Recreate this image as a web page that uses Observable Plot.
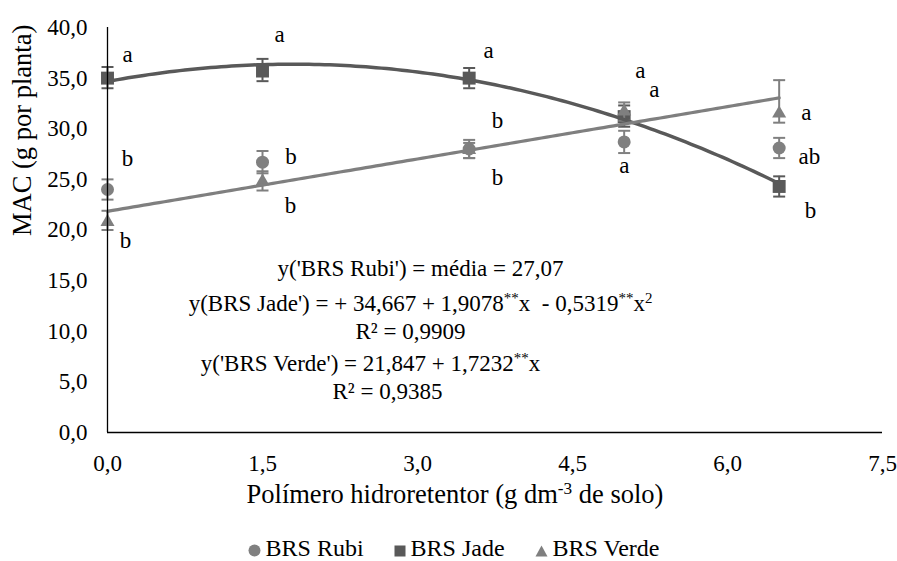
<!DOCTYPE html>
<html lang="pt"><head><meta charset="utf-8">
<script src="https://cdn.jsdelivr.net/npm/d3@7"></script>
<script src="https://cdn.jsdelivr.net/npm/@observablehq/plot@0.6"></script>
<style>
@font-face { font-family: "ChartSerif"; src: local("Liberation Serif"), local("LiberationSerif"), local("LiberationSerif-Regular"), local("Liberation Serif Regular"), local("Tinos"), local("Tinos-Regular"), local("DejaVu Serif"), local("DejaVuSerif"); }
body{margin:0;background:#fff;}
#wrap{width:897px;height:561px;position:relative;overflow:hidden;background:#fff}
#wrap, #wrap *{font-family:"Liberation Serif","ChartSerif","Tinos","DejaVu Serif",serif;}
</style></head><body>
<div id="wrap">
<div id="chart" style="height:528px"></div>
<div id="legend" style="font-size:24px;display:flex;justify-content:center;align-items:center;gap:30px;height:26px;padding-top:7px;padding-left:10px;line-height:1;color:#000">
  <div style="display:flex;align-items:center;gap:5px"><svg width="13" height="13" style="margin-top:5px"><circle cx="6.5" cy="6.5" r="6" fill="#808080"/></svg><span class="lg">BRS Rubi</span></div>
  <div style="display:flex;align-items:center;gap:5px"><svg width="12" height="12" style="margin-top:5px"><rect x="0.5" y="0.5" width="11" height="11" fill="#595959"/></svg><span class="lg">BRS Jade</span></div>
  <div style="display:flex;align-items:center;gap:5px"><svg width="13" height="12" style="margin-top:5px"><polygon points="6.5,0.5 12.5,11.5 0.5,11.5" fill="#7f7f7f"/></svg><span class="lg">BRS Verde</span></div>
</div>
</div>
<script>
// ---------- data ----------
const xVals = [0, 1.5, 3.5, 5, 6.5];
const rubi   = [24.0, 26.7, 28.0, 28.7, 28.1];
const rubiLo = [23.0, 25.6, 27.1, 27.6, 27.1];
const rubiHi = [25.0, 27.8, 28.9, 29.8, 29.1];
const jade   = [35.0, 35.7, 35.0, 31.2, 24.3];
const jadeLo = [34.0, 34.7, 34.0, 30.2, 23.3];
const jadeHi = [36.1, 36.9, 36.0, 32.3, 25.3];
const verde   = [20.8, 24.8, 27.9, 31.7, 31.5];
const verdeLo = [20.0, 23.9, 27.1, 30.8, 30.6];
const verdeHi = [21.9, 25.8, 28.6, 32.6, 34.8];
const rubiLetters  = ["b", "b", "b", "a", "ab"];
const jadeLetters  = ["a", "a", "a", "a", "b"];
const verdeLetters = ["b", "b", "b", "a", "a"];
const jadeCoef  = [34.667, 1.9078, -0.5319];
const verdeCoef = [21.847, 1.7232];
const trendRange = [0, 6.5];
const xTicks = [0, 1.5, 3, 4.5, 6, 7.5];
const yTicks = [0, 5, 10, 15, 20, 25, 30, 35, 40];
const equations = [
  "y('BRS Rubi') = média = 27,07",
  "y(BRS Jade') = + 34,667 + 1,9078^{**}x  - 0,5319^{**}x^{2}",
  "R² = 0,9909",
  "y('BRS Verde') = 21,847 + 1,7232^{**}x",
  "R² = 0,9385"
];
const xLabel = "Polímero hidroretentor (g dm^{-3} de solo)";
const yLabel = "MAC (g por planta)";
const seriesNames = ["BRS Rubi", "BRS Jade", "BRS Verde"];

// ---------- layout / style ----------
const FONT = "'Liberation Serif', 'ChartSerif', 'Tinos', 'DejaVu Serif', serif";
const colors = {rubi: "#808080", jade: "#595959", verde: "#7f7f7f"};
const eqOffsets = [[313, 232.5], [313, 267.5], [303, 295.5], [263, 327.5], [280, 355.5]];
const letterOffsets = {
  jade:  [[20, -23], [17, -35.5], [19.4, -26.6], [16.3, -44.5], [31.3, 25]],
  rubi:  [[20, -30], [28.5, -4.7], [28.4, -27.5], [0.3, 24.6], [30.3, 9.5]],
  verde: [[18, 19.6], [28, 25], [28.4, 28.5], [30.3, -21], [27.3, 0]]
};

const rows = (vals, lo, hi, letters) => xVals.map((x, i) => ({x, y: vals[i], lo: lo[i], hi: hi[i], letter: letters[i]}));
const rubiRows = rows(rubi, rubiLo, rubiHi, rubiLetters);
const jadeRows = rows(jade, jadeLo, jadeHi, jadeLetters);
const verdeRows = rows(verde, verdeLo, verdeHi, verdeLetters);
const poly = (c, x) => c.reduce((s, a, k) => s + a * Math.pow(x, k), 0);
const trend = c => d3.range(trendRange[0], trendRange[1] + 1e-9, 0.05).map(x => ({x, y: poly(c, x)}));

const capSymbol = {draw(ctx, size) { const w = Math.sqrt(size / Math.PI); ctx.moveTo(-w, 0); ctx.lineTo(w, 0); }};
const fmt = d => d.toFixed(1).replace(".", ",");

function seriesMarks(data, color, symbol, r) {
  return [
    Plot.ruleX(data, {x: "x", y1: "lo", y2: "hi", stroke: color, strokeWidth: 2}),
    Plot.dot(data, {x: "x", y: "lo", symbol: capSymbol, r: 6, stroke: color, strokeWidth: 2, fill: "none"}),
    Plot.dot(data, {x: "x", y: "hi", symbol: capSymbol, r: 6, stroke: color, strokeWidth: 2, fill: "none"}),
    Plot.dot(data, {x: "x", y: "y", symbol, r, fill: color, stroke: "none"})
  ];
}
function letterMarks(data, offsets) {
  return data.map((d, i) => Plot.text([d], {x: "x", y: "y", text: "letter", dx: offsets[i][0], dy: offsets[i][1] - 1, fontSize: 23, fill: "#000"}));
}

const plot = Plot.plot({
  width: 897, height: 528,
  marginLeft: 107, marginRight: 15, marginTop: 27, marginBottom: 96,
  x: {domain: [0, 7.5]},
  y: {domain: [0, 40]},
  style: {fontFamily: FONT, fontSize: "23px", color: "#000", background: "#fff"},
  marks: [
    Plot.axisX({ticks: xTicks, tickFormat: fmt, tickSize: 0, tickPadding: 22, label: null, fontSize: 23}),
    Plot.axisY({ticks: yTicks, tickFormat: fmt, tickSize: 0, tickPadding: 20, label: null, fontSize: 23}),
    ...seriesMarks(rubiRows, colors.rubi, "circle", 6.5),
    ...seriesMarks(jadeRows, colors.jade, "square", 7.3),
    ...seriesMarks(verdeRows, colors.verde, "triangle", 5.2),
    Plot.line(trend(jadeCoef), {x: "x", y: "y", stroke: colors.jade, strokeWidth: 3.5}),
    Plot.line(trend(verdeCoef), {x: "x", y: "y", stroke: colors.verde, strokeWidth: 3.2}),
    Plot.ruleX([0], {y1: 0, y2: 40, stroke: "#000", strokeWidth: 1.3}),
    Plot.ruleY([0], {x1: 0, x2: 7.5, stroke: "#000", strokeWidth: 1.3}),
    ...letterMarks(jadeRows, letterOffsets.jade),
    ...letterMarks(rubiRows, letterOffsets.rubi),
    ...letterMarks(verdeRows, letterOffsets.verde),
    ...equations.map((e, i) => Plot.text([e], {frameAnchor: "top-left", dx: eqOffsets[i][0], dy: eqOffsets[i][1], textAnchor: "middle", fontSize: 23, fill: "#000"})),
    Plot.text([xLabel], {frameAnchor: "bottom", dx: -40, dy: 70.5, fontSize: 26.5, fill: "#000"}),
    Plot.text([yLabel], {frameAnchor: "left", dx: -85, dy: 6, rotate: -90, fontSize: 26.5, fill: "#000"})
  ]
});

// superscript markup ^{...}
plot.querySelectorAll("text").forEach(t => {
  const s = t.textContent;
  if (!s.includes("^{")) return;
  while (t.firstChild) t.removeChild(t.firstChild);
  s.split(/(\^\{[^}]*\})/).forEach(p => {
    if (!p) return;
    const ts = document.createElementNS("http://www.w3.org/2000/svg", "tspan");
    if (p.startsWith("^{")) {
      ts.textContent = p.slice(2, -1);
      ts.setAttribute("baseline-shift", "super");
      ts.setAttribute("font-size", "65%");
    } else ts.textContent = p;
    t.appendChild(ts);
  });
});

document.getElementById("chart").appendChild(plot);
document.querySelectorAll("#legend .lg").forEach((el, i) => { el.textContent = seriesNames[i]; });
</script></body></html>
